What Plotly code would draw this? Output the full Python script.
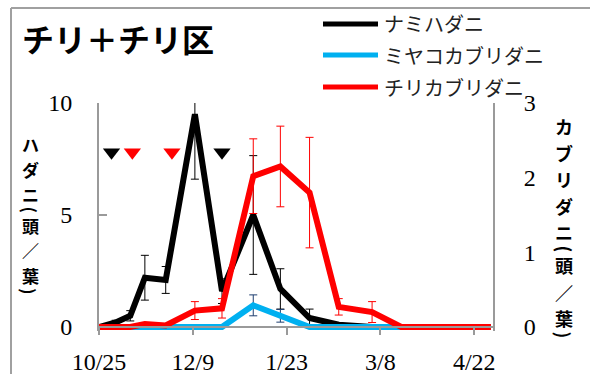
import plotly.graph_objects as go

# ---- data -------------------------------------------------------------
dates = ["2015-10-25", "2015-11-02", "2015-11-09", "2015-11-16", "2015-11-26",
         "2015-12-10", "2015-12-23", "2016-01-07", "2016-01-20", "2016-02-03",
         "2016-02-17", "2016-03-04", "2016-03-18", "2016-04-01", "2016-04-15",
         "2016-04-30"]

# spider mites (left axis, per leaf)
nami = [0, 0.2, 0.5, 2.2, 2.1, 9.5, 1.6, 5.0, 1.7, 0.4, 0.1, 0, 0, 0, 0, 0]
nami_err = [None, 0.1, 0.23, 1.0, 0.6, 2.9, 0.55, 2.65, 0.9, 0.4,
            None, None, None, None, None, None]

# predatory mites (right axis, per leaf)
miyako = [0, 0, 0, 0, 0, 0, 0, 0.29, 0.15, 0, 0, 0, 0, 0, 0, 0]
miyako_err = [None, None, None, None, None, None, None, 0.14, 0.085, None,
              None, None, None, None, None, None]

chiri = [0, 0, 0, 0.04, 0.02, 0.22, 0.25, 2.02, 2.15, 1.8, 0.27, 0.2, 0, 0, 0, 0]
chiri_err = [None, None, None, None, None, 0.12, 0.13, 0.5, 0.54, 0.74, 0.11,
             0.14, None, None, None, None]

# release events
release_dates = ["2015-10-31", "2015-11-10", "2015-11-29", "2015-12-23"]
release_level = [7.8, 7.8, 7.8, 7.8]
release_colors = ["#000000", "#FF0000", "#FF0000", "#000000"]

tick_dates = ["2015-10-25", "2015-12-09", "2016-01-23", "2016-03-08", "2016-04-22"]
left_ticks = [0, 5, 10]
right_ticks = [0, 1, 2, 3]

series_names = ["ナミハダニ", "ミヤコカブリダニ", "チリカブリダニ"]
series_colors = ["#000000", "#00B0F0", "#FF0000"]
title_text = "チリ＋チリ区"
left_title = list("ハダニ(頭／葉)")
right_title = list("カブリダニ(頭／葉)")

# ---- geometry helpers (pixel -> paper) --------------------------------
W, H = 590, 374
PL, PR, PT, PB = 99, 493, 103, 331
ZERO_Y = 327


def px(x):
    return (x - PL) / (PR - PL)


def py(y):
    return (PB - y) / (PB - PT)


left_min = -(PB - ZERO_Y) / ((ZERO_Y - PT) / 10)
right_min = -(PB - ZERO_Y) / ((ZERO_Y - PT) / 3)

AX_GRAY = "#9a9a9a"
SERIF = "Liberation Serif"
CJK = "Noto Sans CJK JP"

fig = go.Figure()

fig.add_trace(go.Scatter(
    x=dates, y=nami, mode="lines", name=series_names[0], yaxis="y",
    line=dict(color=series_colors[0], width=6),
    error_y=dict(type="data", array=nami_err, visible=True,
                 color="#000000", thickness=1, width=4)))

fig.add_trace(go.Scatter(
    x=dates, y=miyako, mode="lines", name=series_names[1], yaxis="y2",
    line=dict(color=series_colors[1], width=6),
    error_y=dict(type="data", array=miyako_err, visible=True,
                 color="#1F3F70", thickness=1, width=4)))

fig.add_trace(go.Scatter(
    x=dates, y=chiri, mode="lines", name=series_names[2], yaxis="y2",
    line=dict(color=series_colors[2], width=6),
    error_y=dict(type="data", array=chiri_err, visible=True,
                 color="#FF0000", thickness=1, width=4)))

fig.add_trace(go.Scatter(
    x=release_dates, y=release_level, mode="markers", yaxis="y",
    marker=dict(symbol="triangle-down", size=15, color=release_colors,
                line=dict(width=0)),
    cliponaxis=False))

# ---- frame, legend and titles -----------------------------------------
shapes = [
    dict(type="line", xref="paper", yref="paper",
         x0=px(11), y0=py(8), x1=px(W + 5), y1=py(8),
         line=dict(color="#a0a0a0", width=2)),
    dict(type="line", xref="paper", yref="paper",
         x0=px(11), y0=py(8), x1=px(11), y1=py(H + 5),
         line=dict(color="#a0a0a0", width=2)),
]
annotations = [
    dict(text="<b>" + title_text + "</b>", xref="paper", yref="paper",
         x=px(20), y=py(38), xanchor="left", yanchor="middle", showarrow=False,
         font=dict(family=CJK, size=32, color="#000000")),
]

legend_rows = [24, 55, 87]
for name, color, row in zip(series_names, series_colors, legend_rows):
    shapes.append(dict(type="line", xref="paper", yref="paper",
                       x0=px(323), x1=px(378), y0=py(row), y1=py(row),
                       line=dict(color=color, width=5)))
    annotations.append(dict(text=name, xref="paper", yref="paper",
                            x=px(382), y=py(row), xanchor="left",
                            yanchor="middle", showarrow=False,
                            font=dict(family=CJK, size=20, color="#222222")))


def vertical_title(chars, centers, x, size):
    """Stack title characters top to bottom; brackets are turned sideways."""
    out = []
    for ch, cy in zip(chars, centers):
        out.append(dict(text="<b>" + ch + "</b>", xref="paper", yref="paper",
                        x=px(x), y=py(cy), xanchor="center", yanchor="middle",
                        textangle=90 if ch in "()" else 0, showarrow=False,
                        font=dict(family=CJK, size=size, color="#000000")))
    return out


annotations += vertical_title(
    left_title, [144, 169, 194, 209.5, 225.5, 250.5, 275.5, 291], 30, 17)
annotations += vertical_title(
    right_title, [126, 152.5, 179, 205.5, 232, 248.5, 265, 291.5, 318, 334.5],
    564, 18)

fig.update_layout(
    width=W, height=H,
    margin=dict(l=PL, r=W - PR, t=PT, b=H - PB, pad=0),
    paper_bgcolor="white", plot_bgcolor="white",
    showlegend=False,
    xaxis=dict(type="date", range=["2015-10-25", "2016-05-01"],
               anchor="free", position=py(ZERO_Y), automargin=False,
               tickvals=tick_dates, tickformat="%-m/%-d",
               showline=True, linecolor=AX_GRAY, linewidth=2,
               ticks="outside", ticklen=7, tickcolor=AX_GRAY, tickwidth=2,
               ticklabelstandoff=6,
               showgrid=False, zeroline=False,
               tickfont=dict(family=SERIF, size=24, color="#000000")),
    yaxis=dict(range=[left_min, 10], tickvals=left_ticks, automargin=False,
               showline=True, linecolor=AX_GRAY, linewidth=2,
               ticks="inside", ticklen=8, tickcolor=AX_GRAY, tickwidth=2,
               ticklabelstandoff=20,
               showgrid=False, zeroline=False,
               tickfont=dict(family=SERIF, size=24, color="#000000")),
    yaxis2=dict(range=[right_min, 3], tickvals=right_ticks, overlaying="y",
                side="right", automargin=False,
                showline=True, linecolor=AX_GRAY, linewidth=2,
                ticks="", ticklabelstandoff=24,
                showgrid=False, zeroline=False,
                tickfont=dict(family=SERIF, size=24, color="#000000")),
    shapes=shapes,
    annotations=annotations,
)

fig.write_html("out.html")
